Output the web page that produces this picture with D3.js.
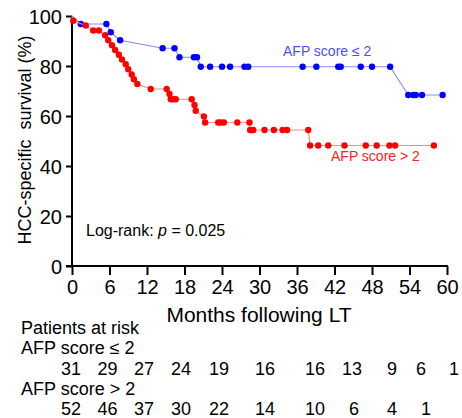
<!DOCTYPE html>
<html><head><meta charset="utf-8">
<script src="https://cdn.jsdelivr.net/npm/d3@7"></script>
<style>
html,body{margin:0;padding:0;background:#fff;}
svg{display:block;font-family:"Liberation Sans",Arial,Helvetica,sans-serif;}
</style></head>
<body><svg id="chart" width="462" height="418"></svg>
<script>
// ---- data ----
const xTicks = [0,6,12,18,24,30,36,42,48,54,60];
const yTicks = [0,20,40,60,80,100];

const blueMonths = [0,1.4,5.5,6.2,7.7,14.5,16.4,17.2,19.5,20.0,20.6,22.1,24.0,25.3,27.6,28.2,36.9,39.1,42.6,43.0,46.2,48.0,50.9,53.8,54.6,55.0,56.0,59.3];
const blueSurv   = [100,96.8,96.8,93.5,90.3,87.1,87.1,83.5,83.5,83.5,79.7,79.7,79.7,79.7,79.7,79.7,79.7,79.7,79.7,79.7,79.7,79.7,79.7,68.4,68.4,68.4,68.4,68.4];

const redMonths = [0,0.2,2.2,3.4,4.3,5.3,5.8,6.4,6.9,7.5,8.0,8.6,9.0,9.55,9.9,10.45,12.6,15.15,15.6,15.8,16.2,16.6,19.15,19.6,19.8,21.1,21.3,23.4,23.8,24.3,26.45,28.4,28.5,28.75,29.0,30.8,32.3,33.7,34.4,37.8,38.1,39.4,41.0,43.6,47.0,48.75,50.8,51.7,57.9];
const redSurv   = [100,98.1,96.2,94.2,94.2,92.3,90.3,88.3,86.4,84.5,82.6,80.7,78.7,76.6,74.7,72.8,70.8,70.8,68.8,66.7,66.7,66.7,66.7,64.4,62.1,59.8,57.4,57.4,57.4,57.4,57.4,57.4,54.4,54.4,54.4,54.4,54.4,54.4,54.4,54.4,48.2,48.2,48.2,48.2,48.2,48.2,48.2,48.2,48.2];

const groupLow = "AFP score \u2264 2";
const groupHigh = "AFP score > 2";
const riskLow  = [31,29,27,24,19,16,16,13,9,6,1];
const riskHigh = [52,46,37,30,22,14,10,6,4,1];

// ---- layout ----
const colLow  = [71,107.5,144,181,219,265,315,352,392,421,454];
const colHigh = [71,107.5,144,181,219,265,315,354,392,426];

const svg = d3.select("#chart");
const x = d3.scaleLinear().domain([0,60]).range([72,447]);
const y = d3.scaleLinear().domain([0,100]).range([266,16]);

// axes
const yAxis = d3.axisLeft(y).tickValues(yTicks).tickSize(6).tickPadding(4);
const gy = svg.append("g").attr("transform","translate(72,0)").call(yAxis);
const xAxis = d3.axisBottom(x).tickValues(xTicks).tickSize(9).tickPadding(3);
const gx = svg.append("g").attr("transform","translate(0,266)").call(xAxis);
[gx,gy].forEach(g=>{
  g.select(".domain").remove();
  g.selectAll(".tick line").attr("stroke","#000").attr("stroke-width",2);
  g.selectAll(".tick text").attr("fill","#000").style("font-size","20px").style("font-family","Liberation Sans, Arial, sans-serif");
});
gx.selectAll(".tick text").attr("dy","0.78em");
gy.selectAll(".tick text").attr("dy","0.36em");
// axis lines
svg.append("line").attr("x1",x(0)).attr("x2",x(0)).attr("y1",y(100)).attr("y2",y(0)).attr("stroke","#000").attr("stroke-width",2);
svg.append("line").attr("x1",x(0)-6).attr("x2",x(60)+1).attr("y1",y(0)).attr("y2",y(0)).attr("stroke","#000").attr("stroke-width",2);

// series
function drawSeries(ms, ss, lineCol, dotCol){
  const pts = ms.map((m,i)=>[m,ss[i]]);
  svg.append("path").datum(pts)
    .attr("fill","none").attr("stroke",lineCol).attr("stroke-width",1.2)
    .attr("d", d3.line().x(d=>x(d[0])).y(d=>y(d[1])));
  svg.append("g").selectAll("circle").data(pts.slice(1)).join("circle")
    .attr("cx",d=>x(d[0])).attr("cy",d=>y(d[1])).attr("r",3.2).attr("fill",dotCol);
}
drawSeries(blueMonths, blueSurv, "#8a8aff", "#0000ff");
drawSeries(redMonths, redSurv, "#ff8a8a", "#ff0000");

// series labels
svg.append("text").attr("x",283).attr("y",56).attr("fill","#4d4dff").style("font-size","14px").text(groupLow);
svg.append("text").attr("x",331).attr("y",161).attr("fill","#ff2020").style("font-size","14px").text(groupHigh);

// log-rank
const lr = svg.append("text").attr("x",86).attr("y",236).attr("fill","#000").style("font-size","16px");
lr.append("tspan").text("Log-rank: ");
lr.append("tspan").style("font-style","italic").text("p");
lr.append("tspan").text(" = 0.025");

// axis titles
svg.append("text").attr("x",259).attr("y",322).attr("text-anchor","middle").attr("fill","#000").style("font-size","21px").text("Months following LT");
svg.append("text").attr("transform","translate(31,140) rotate(-90)").attr("text-anchor","middle").attr("fill","#000")
  .style("font-size","18px").style("white-space","pre").text("HCC-specific  survival (%)");

// risk table
const tbl = svg.append("g").attr("fill","#000").style("font-size","18px");
tbl.append("text").attr("x",21).attr("y",334).text("Patients at risk");
tbl.append("text").attr("x",21).attr("y",354).text(groupLow);
tbl.append("g").selectAll("text").data(riskLow).join("text")
  .attr("x",(d,i)=>colLow[i]).attr("y",374.5).attr("text-anchor","middle").text(d=>d);
tbl.append("text").attr("x",21).attr("y",395).text(groupHigh);
tbl.append("g").selectAll("text").data(riskHigh).join("text")
  .attr("x",(d,i)=>colHigh[i]).attr("y",414.5).attr("text-anchor","middle").text(d=>d);
</script></body></html>
